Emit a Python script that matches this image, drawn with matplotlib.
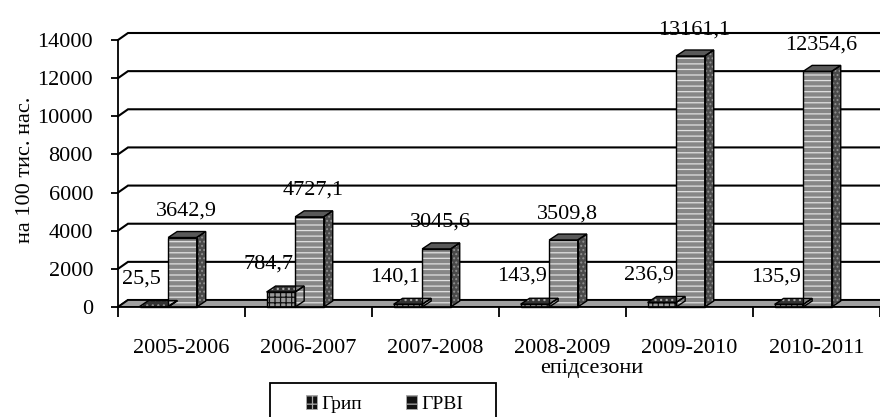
import matplotlib
matplotlib.use("Agg")
import matplotlib.pyplot as plt
from matplotlib.patches import Polygon, Patch, Rectangle
from matplotlib.font_manager import FontProperties

FAMILY = ["Liberation Serif", "DejaVu Serif"]
plt.rcParams["font.family"] = FAMILY
plt.rcParams["hatch.linewidth"] = 0.9

# Incidence per 100 thousand population by epidemic season
seasons = ["2005-2006", "2006-2007", "2007-2008", "2008-2009", "2009-2010", "2010-2011"]
flu = [25.5, 784.7, 140.1, 143.9, 236.9, 135.9]
ari = [3642.9, 4727.1, 3045.6, 3509.8, 13161.1, 12354.6]
series_names = ["Грип", "ГРВІ"]
y_ticks = [0, 2000, 4000, 6000, 8000, 10000, 12000, 14000]
y_label = "на 100 тис. нас."
x_label = "епідсезони"

FS = 16
W, H = 880, 417
fig = plt.figure(figsize=(W / 100, H / 100), dpi=100)
left_px, base_px, top_px = 118, 307, 40
ax = fig.add_axes([left_px / W, (H - base_px) / H, (W - left_px) / W, (base_px - top_px) / H])
n = len(seasons)
ymax = y_ticks[-1]
ax.set_xlim(0, n)
ax.set_ylim(0, ymax)

# pixel -> data scale factors for the pseudo-3D depth offsets
kx = n / (W - left_px)
ky = ymax / (base_px - top_px)


def shift(x, y, dxp, dyp):
    return x + dxp * kx, y + dyp * ky


# floor
wall_dx, wall_dy = 10, 7
fl = [(0, 0), (n + 1, 0), shift(n + 1, 0, wall_dx, wall_dy), shift(0, 0, wall_dx, wall_dy)]
ax.add_patch(Polygon(fl, closed=True, facecolor="#a0a0a0", edgecolor="black", lw=1.3, zorder=1))

# gridlines on side and back walls
for v in y_ticks:
    bx, by = shift(0, v, wall_dx, wall_dy)
    ax.plot([0, bx, n + 1], [v, by, by], color="black", lw=1.5, zorder=0.5, clip_on=False,
            solid_joinstyle="miter")


def draw_bar(x0, w, v, faces_style):
    d_x, d_y = 9, 6
    x1 = x0 + w
    shapes = [
        [(x0, 0), (x1, 0), (x1, v), (x0, v)],
        [(x1, 0), shift(x1, 0, d_x, d_y), shift(x1, v, d_x, d_y), (x1, v)],
        [(x0, v), (x1, v), shift(x1, v, d_x, d_y), shift(x0, v, d_x, d_y)],
    ]
    for pts, (fc, hatch, hc) in zip(shapes, faces_style):
        ax.add_patch(Polygon(pts, closed=True, facecolor=fc, edgecolor=hc, hatch=hatch,
                             lw=0, zorder=3, clip_on=False))
        ax.add_patch(Polygon(pts, closed=True, facecolor="none", edgecolor="black",
                             lw=1.0, zorder=3.1, clip_on=False))


flu_style = [("#9a9a9a", "+++", "#111111"), ("#3a3a3a", "...", "#aaaaaa"), ("#333333", "...", "#aaaaaa")]
ari_style = [("#868686", "---", "#e0e0e0"), ("#4a4a4a", "....", "#909090"), ("#595959", "", "#595959")]


def fmt(v):
    return f"{v:.1f}".replace(".", ",")


bar_w = 0.225
flu_off = 0.17
for i in range(n):
    fx = i + flu_off
    rx = fx + bar_w
    draw_bar(fx, bar_w, flu[i], flu_style)
    draw_bar(rx, bar_w, ari[i], ari_style)
    ax.annotate(fmt(flu[i]), (fx + bar_w / 2, flu[i]), xytext=(-9, 20), textcoords="offset points",
                ha="center", va="center", fontsize=FS, zorder=5, annotation_clip=False)
    ax.annotate(fmt(ari[i]), (rx + bar_w / 2, ari[i]), xytext=(3, 19), textcoords="offset points",
                ha="center", va="center", fontsize=FS, zorder=5, annotation_clip=False)

# axes
for s in ["top", "right"]:
    ax.spines[s].set_visible(False)
for s in ["left", "bottom"]:
    ax.spines[s].set_linewidth(1.3)
    ax.spines[s].set_zorder(4)
ax.set_yticks(y_ticks)
ax.set_yticklabels([str(t) for t in y_ticks], fontsize=FS)
ax.tick_params(axis="y", direction="out", length=5, width=1.3, pad=13)
ax.set_xticks(range(n + 1))
ax.set_xticklabels([""] * (n + 1))
ax.tick_params(axis="x", which="major", direction="out", length=7, width=1.3)
ax.set_xticks([i + 0.5 for i in range(n)], minor=True)
ax.set_xticklabels(seasons, minor=True, fontsize=FS)
ax.tick_params(axis="x", which="minor", length=0, pad=23)
ax.patch.set_visible(False)

fig.text(592 / W, 1 - 368 / H, x_label, ha="center", va="center", fontsize=FS)
fig.text(26 / W, 1 - 170 / H, y_label, ha="center", va="center", rotation=90, fontsize=FS)

# legend box and entries
fig.add_artist(Rectangle((270 / W, 1 - 430 / H), 226 / W, 47 / H, transform=fig.transFigure,
                         facecolor="white", edgecolor="black", lw=1.3, zorder=2))
handles = [
    Patch(facecolor="#111111", edgecolor="#aaaaaa", hatch="++", lw=0.6, label=series_names[0]),
    Patch(facecolor="#111111", edgecolor="#aaaaaa", hatch="--", lw=0.6, label=series_names[1]),
]
leg = fig.legend(handles=handles, loc="center left", bbox_to_anchor=(306 / W, 1 - 404 / H),
                 ncol=2, prop=FontProperties(family=FAMILY, size=14), frameon=False,
                 handlelength=0.55, handleheight=0.7, handletextpad=0.25, columnspacing=2.25,
                 borderpad=0, borderaxespad=0)
leg.set_zorder(3)

fig.savefig("out.png", dpi=100)
